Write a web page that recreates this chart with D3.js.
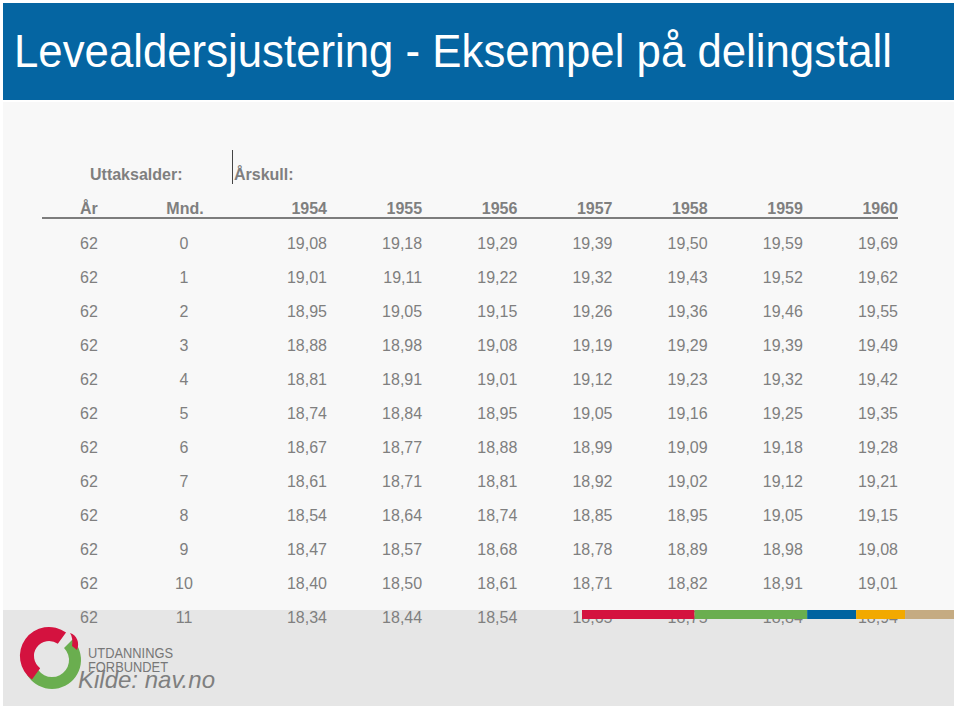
<!DOCTYPE html>
<html><head><meta charset="utf-8">
<script src="https://cdn.jsdelivr.net/npm/d3@7/dist/d3.min.js"></script>
<style>body{margin:0;background:#fff}svg{display:block}text{font-family:Arial,"Liberation Sans",sans-serif}</style>
</head><body>
<svg id="c" width="960" height="709"></svg>
<script>
const title = "Levealdersjustering - Eksempel på delingstall";
const cohorts = ["1954","1955","1956","1957","1958","1959","1960"];
const ages = [62,62,62,62,62,62,62,62,62,62,62,62];
const months = [0,1,2,3,4,5,6,7,8,9,10,11];
const v1954 = ["19,08","19,01","18,95","18,88","18,81","18,74","18,67","18,61","18,54","18,47","18,40","18,34"];
const v1955 = ["19,18","19,11","19,05","18,98","18,91","18,84","18,77","18,71","18,64","18,57","18,50","18,44"];
const v1956 = ["19,29","19,22","19,15","19,08","19,01","18,95","18,88","18,81","18,74","18,68","18,61","18,54"];
const v1957 = ["19,39","19,32","19,26","19,19","19,12","19,05","18,99","18,92","18,85","18,78","18,71","18,65"];
const v1958 = ["19,50","19,43","19,36","19,29","19,23","19,16","19,09","19,02","18,95","18,89","18,82","18,75"];
const v1959 = ["19,59","19,52","19,46","19,39","19,32","19,25","19,18","19,12","19,05","18,98","18,91","18,84"];
const v1960 = ["19,69","19,62","19,55","19,49","19,42","19,35","19,28","19,21","19,15","19,08","19,01","18,94"];
const values = [v1954,v1955,v1956,v1957,v1958,v1959,v1960];
const stripeColors = ["#d4123f","#6aae4f","#0063a0","#f2a900","#c5ab82"];
const stripeWeights = [2.3,2.3,1,1,1];

const svg = d3.select("#c");
const grey = "#7f7f7f";

// backgrounds
svg.append("rect").attr("x",3).attr("y",3).attr("width",951).attr("height",97).attr("fill","#0565a2");
svg.append("rect").attr("x",3).attr("y",102).attr("width",951).attr("height",508).attr("fill","#f8f8f8");
svg.append("rect").attr("x",3).attr("y",610).attr("width",951).attr("height",96).attr("fill","#e6e6e6");

// title
svg.append("text").attr("x",14).attr("y",67).attr("fill","#fff")
  .attr("font-size",47).attr("textLength",878).attr("lengthAdjust","spacingAndGlyphs").text(title);

// group labels
svg.append("text").attr("x",90).attr("y",180).attr("fill",grey).attr("font-weight","bold").attr("font-size",16).text("Uttaksalder:");
svg.append("text").attr("x",234).attr("y",180).attr("fill",grey).attr("font-weight","bold").attr("font-size",16).text("Årskull:");
svg.append("line").attr("x1",232.5).attr("x2",232.5).attr("y1",150).attr("y2",184).attr("stroke","#444").attr("stroke-width",1);

// scales
const x = d3.scalePoint().domain(cohorts).range([327,898]);
const y = d3.scalePoint().domain(months).range([243,617]);

// header
const hy = 214;
svg.append("text").attr("x",80).attr("y",hy).attr("fill",grey).attr("font-weight","bold").attr("font-size",16).text("År");
svg.append("text").attr("x",185).attr("y",hy).attr("text-anchor","middle").attr("fill",grey).attr("font-weight","bold").attr("font-size",16).text("Mnd.");
svg.selectAll("text.hc").data(cohorts).join("text").attr("class","hc")
  .attr("x",d=>x(d)).attr("y",hy).attr("text-anchor","end").attr("fill",grey).attr("font-weight","bold").attr("font-size",16).text(d=>d);
svg.append("line").attr("x1",42).attr("x2",898).attr("y1",218).attr("y2",218).attr("stroke","#555").attr("stroke-width",1.5);

// rows
const rows = svg.append("g").attr("font-size",16).attr("fill",grey);
months.forEach((m,i)=>{
  const yy = y(m)+6;
  rows.append("text").attr("x",80).attr("y",yy).text(ages[i]);
  rows.append("text").attr("x",184).attr("y",yy).attr("text-anchor","middle").text(m);
  cohorts.forEach((c,j)=>{
    rows.append("text").attr("x",x(c)).attr("y",yy).attr("text-anchor","end").text(values[j][i]);
  });
});

// stripe
const total = d3.sum(stripeWeights);
const sx = d3.scaleLinear().domain([0,total]).range([582,954]);
let acc = 0;
stripeColors.forEach((col,i)=>{
  svg.append("rect").attr("x",sx(acc)).attr("y",610).attr("width",sx(acc+stripeWeights[i])-sx(acc)).attr("height",9).attr("fill",col);
  acc += stripeWeights[i];
});

// logo
const lg = svg.append("g").attr("transform","translate(50,658)");
const arcG = d3.arc().innerRadius(17).outerRadius(29);
lg.append("path").attr("transform","translate(2,2)").attr("d",arcG({startAngle:Math.PI*0.25,endAngle:Math.PI*1.45})).attr("fill","#6aae4f");
const arcR = d3.arc().innerRadius(15).outerRadius(29);
lg.append("path").attr("transform","translate(-1,-2)").attr("d",arcR({startAngle:Math.PI*1.2,endAngle:Math.PI*2.2})).attr("fill","#d4123f");
lg.append("path").attr("d","M20,-25 C27,-23 30,-15 27,-8 L22,-12 C23,-17 22,-22 20,-25Z").attr("fill","#d4123f");
svg.append("text").attr("x",88).attr("y",658).attr("fill","#777").attr("font-family","DejaVu Sans").attr("font-size",14).attr("textLength",85).attr("lengthAdjust","spacingAndGlyphs").text("UTDANNINGS");
svg.append("text").attr("x",88).attr("y",672).attr("fill","#777").attr("font-family","DejaVu Sans").attr("font-size",14).attr("textLength",80).attr("lengthAdjust","spacingAndGlyphs").text("FORBUNDET");
svg.append("text").attr("x",78).attr("y",688).attr("fill",grey).attr("font-style","italic").attr("font-size",24).text("Kilde: nav.no");
</script>
</body></html>
